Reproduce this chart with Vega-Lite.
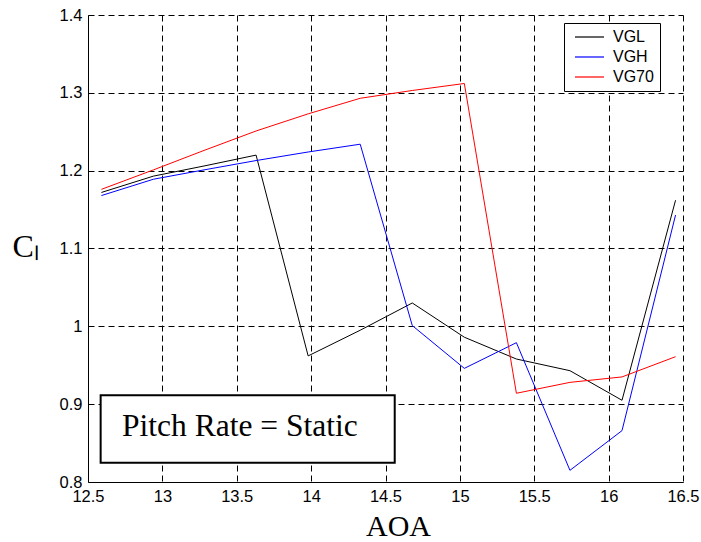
{
  "$schema": "https://vega.github.io/schema/vega-lite/v6.json",
  "width": 595,
  "height": 467,
  "autosize": "none",
  "padding": {"left": 88, "top": 15, "right": 18, "bottom": 60},
  "background": "white",
  "config": {
    "view": {"stroke": null},
    "axis": {
      "labelFont": "Liberation Sans",
      "labelFontSize": 16.5,
      "labelColor": "black",
      "labelFlush": false,
      "labelOverlap": false,
      "grid": true,
      "gridColor": "black",
      "gridOpacity": 1,
      "gridDash": [6, 4],
      "gridWidth": 1,
      "domainColor": "black",
      "domainWidth": 1,
      "ticks": false,
      "titleFont": "Liberation Serif",
      "titleFontWeight": "normal",
      "titleColor": "black"
    }
  },
  "datasets": {
    "curves": [
      {"series": "VGL", "aoa": 12.59, "cl": 1.172},
      {"series": "VGL", "aoa": 12.94, "cl": 1.193},
      {"series": "VGL", "aoa": 13.28, "cl": 1.206},
      {"series": "VGL", "aoa": 13.63, "cl": 1.220},
      {"series": "VGL", "aoa": 13.98, "cl": 0.962},
      {"series": "VGL", "aoa": 14.33, "cl": 0.995},
      {"series": "VGL", "aoa": 14.68, "cl": 1.030},
      {"series": "VGL", "aoa": 15.03, "cl": 0.986},
      {"series": "VGL", "aoa": 15.38, "cl": 0.958},
      {"series": "VGL", "aoa": 15.74, "cl": 0.943},
      {"series": "VGL", "aoa": 16.09, "cl": 0.905},
      {"series": "VGL", "aoa": 16.45, "cl": 1.162},
      {"series": "VGH", "aoa": 12.59, "cl": 1.168},
      {"series": "VGH", "aoa": 12.94, "cl": 1.189},
      {"series": "VGH", "aoa": 13.28, "cl": 1.201},
      {"series": "VGH", "aoa": 13.63, "cl": 1.213},
      {"series": "VGH", "aoa": 13.98, "cl": 1.224},
      {"series": "VGH", "aoa": 14.33, "cl": 1.234},
      {"series": "VGH", "aoa": 14.68, "cl": 1.001},
      {"series": "VGH", "aoa": 15.03, "cl": 0.946},
      {"series": "VGH", "aoa": 15.38, "cl": 0.979},
      {"series": "VGH", "aoa": 15.74, "cl": 0.815},
      {"series": "VGH", "aoa": 16.09, "cl": 0.866},
      {"series": "VGH", "aoa": 16.45, "cl": 1.143},
      {"series": "VG70", "aoa": 12.59, "cl": 1.176},
      {"series": "VG70", "aoa": 12.94, "cl": 1.201},
      {"series": "VG70", "aoa": 13.28, "cl": 1.226},
      {"series": "VG70", "aoa": 13.63, "cl": 1.251},
      {"series": "VG70", "aoa": 13.98, "cl": 1.273},
      {"series": "VG70", "aoa": 14.33, "cl": 1.293},
      {"series": "VG70", "aoa": 14.68, "cl": 1.303},
      {"series": "VG70", "aoa": 15.03, "cl": 1.312},
      {"series": "VG70", "aoa": 15.38, "cl": 0.914},
      {"series": "VG70", "aoa": 15.74, "cl": 0.928},
      {"series": "VG70", "aoa": 16.09, "cl": 0.935},
      {"series": "VG70", "aoa": 16.45, "cl": 0.961}
    ],
    "note": [
      {"x1": 12.585, "x2": 14.562, "y1": 0.8248, "y2": 0.9114, "tx": 12.729, "ty": 0.8595, "label": "Pitch Rate = Static"}
    ]
  },
  "layer": [
    {
      "data": {"name": "curves"},
      "mark": {"type": "line", "strokeWidth": 1, "clip": true},
      "encoding": {
        "x": {
          "field": "aoa", "type": "quantitative",
          "scale": {"domain": [12.5, 16.5], "nice": false, "zero": false},
          "axis": {
            "values": [12.5, 13, 13.5, 14, 14.5, 15, 15.5, 16, 16.5],
            "format": "~f",
            "labelPadding": 6,
            "title": "AOA",
            "titleFontSize": 30,
            "titleAlign": "center",
            "titleBaseline": "alphabetic",
            "titleX": 310,
            "titleY": 53
          }
        },
        "y": {
          "field": "cl", "type": "quantitative",
          "scale": {"domain": [0.8, 1.4], "nice": false, "zero": false},
          "axis": {
            "values": [0.8, 0.9, 1, 1.1, 1.2, 1.3, 1.4],
            "format": "~f",
            "labelPadding": 6,
            "title": "Cₗ",
            "titleFontSize": 32,
            "titleAngle": 0,
            "titleAlign": "left",
            "titleBaseline": "alphabetic",
            "titleX": -76,
            "titleY": 241
          }
        },
        "color": {
          "field": "series", "type": "nominal",
          "scale": {"domain": ["VGL", "VGH", "VG70"], "range": ["#000000", "#0000ff", "#ff0000"]},
          "legend": {
            "title": null,
            "orient": "none",
            "legendX": 476,
            "legendY": 8,
            "padding": 6,
            "strokeColor": "black",
            "fillColor": "white",
            "symbolType": "M-0.6,0L5.2,0",
            "symbolSize": 100,
            "symbolStrokeWidth": 1.2,
            "labelFont": "Liberation Sans",
            "labelFontSize": 16,
            "labelColor": "black",
            "labelOffset": 27,
            "labelExpr": "datum.label + '\u00a0\u00a0\u00a0'",
            "rowPadding": 4
          }
        },
        "order": {"field": "aoa", "type": "quantitative"}
      }
    },
    {
      "data": {"name": "note"},
      "mark": {"type": "rect", "fill": "white", "stroke": "black", "strokeWidth": 2},
      "encoding": {
        "x": {"field": "x1", "type": "quantitative"},
        "x2": {"field": "x2"},
        "y": {"field": "y1", "type": "quantitative"},
        "y2": {"field": "y2"}
      }
    },
    {
      "data": {"name": "note"},
      "mark": {"type": "text", "font": "Liberation Serif", "fontSize": 31.5, "align": "left", "baseline": "alphabetic", "color": "black"},
      "encoding": {
        "x": {"field": "tx", "type": "quantitative"},
        "y": {"field": "ty", "type": "quantitative"},
        "text": {"field": "label"}
      }
    }
  ]
}
